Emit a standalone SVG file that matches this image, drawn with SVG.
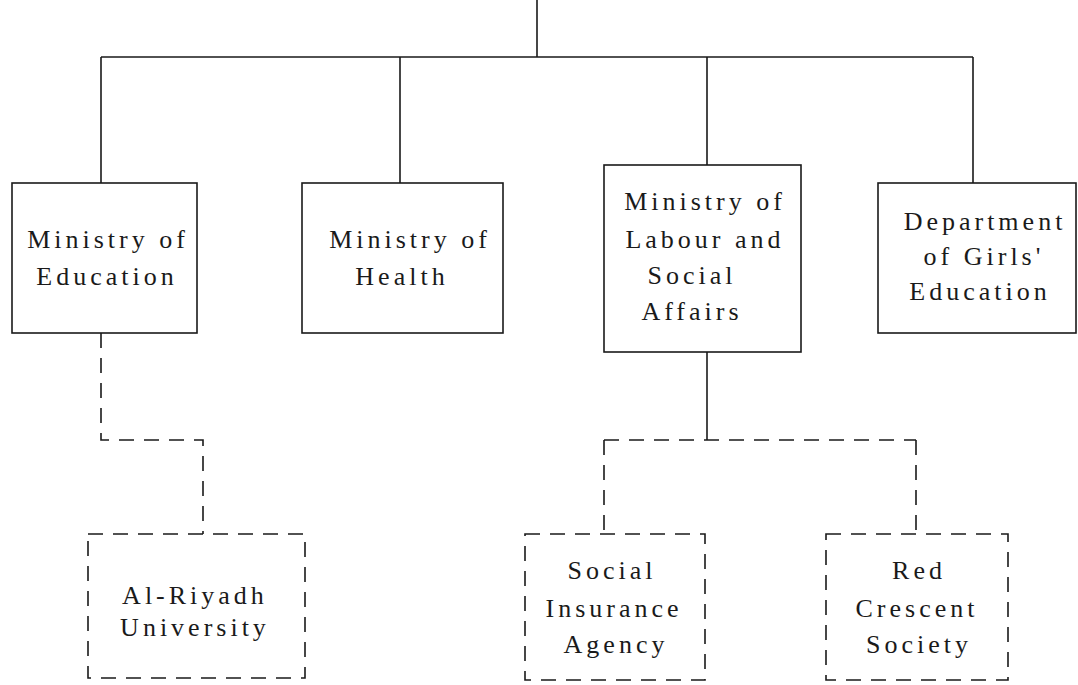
<svg xmlns="http://www.w3.org/2000/svg" width="1078" height="685" viewBox="0 0 1078 685">
<style>
.solid{fill:none;stroke:#1a1a1a;stroke-width:1.6}
.dash{fill:none;stroke:#1a1a1a;stroke-width:1.6;stroke-dasharray:15 10}
.t{font-family:"Liberation Serif","Times New Roman",serif;font-size:26px;letter-spacing:4px;fill:#1a1a1a;text-anchor:middle}
</style>
<rect width="1078" height="685" fill="#ffffff"/>
<g id="connectors">
<path class="solid" d="M537 0V57M101 57H973M101 57V183M400 57V183M707 57V165M973 57V183"/>
<path class="dash" d="M101 333V440H203V534"/>
<path class="solid" d="M707 352V440"/>
<path class="dash" d="M604 440H916M604 440V534M916 440V534"/>
</g>
<g id="ministry-education">
<rect class="solid" x="12" y="183" width="185" height="150"/>
<text class="t" x="108" y="248">Ministry of</text>
<text class="t" x="107" y="285">Education</text>
</g>
<g id="ministry-health">
<rect class="solid" x="302" y="183" width="201" height="150"/>
<text class="t" x="410" y="248">Ministry of</text>
<text class="t" x="402" y="285">Health</text>
</g>
<g id="ministry-labour">
<rect class="solid" x="604" y="165" width="197" height="187"/>
<text class="t" x="705" y="210">Ministry of</text>
<text class="t" x="705" y="248">Labour and</text>
<text class="t" x="692" y="284">Social</text>
<text class="t" x="692" y="320">Affairs</text>
</g>
<g id="dept-girls-education">
<rect class="solid" x="878" y="183" width="198" height="150"/>
<text class="t" x="985" y="230">Department</text>
<text class="t" x="984" y="265">of Girls'</text>
<text class="t" x="980" y="300">Education</text>
</g>
<g id="al-riyadh-university">
<rect class="dash" x="88" y="534" width="217" height="144"/>
<text class="t" x="195" y="604">Al-Riyadh</text>
<text class="t" x="195" y="636">University</text>
</g>
<g id="social-insurance-agency">
<rect class="dash" x="525" y="534" width="180" height="146"/>
<text class="t" x="612" y="579">Social</text>
<text class="t" x="614" y="617">Insurance</text>
<text class="t" x="616" y="653">Agency</text>
</g>
<g id="red-crescent-society">
<rect class="dash" x="826" y="534" width="182" height="146"/>
<text class="t" x="919" y="579">Red</text>
<text class="t" x="917" y="617">Crescent</text>
<text class="t" x="919" y="653">Society</text>
</g>
</svg>
